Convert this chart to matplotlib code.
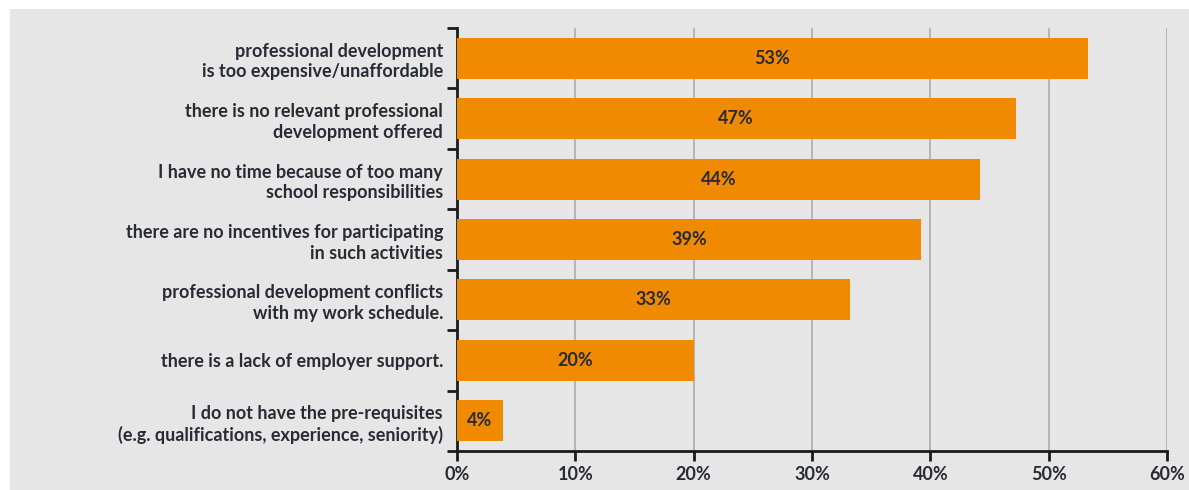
import numpy as np
import matplotlib.pyplot as plt
from matplotlib.patches import Rectangle

labels = [
    "professional development\nis too expensive/unaffordable",
    "there is no relevant professional\ndevelopment offered",
    "I have no time because of too many\nschool responsibilities",
    "there are no incentives for participating\nin such activities",
    "professional development conflicts\nwith my work schedule.",
    "there is a lack of employer support.",
    "I do not have the pre-requisites\n(e.g. qualifications, experience, seniority)",
]
values = [53.3, 47.2, 44.2, 39.2, 33.2, 20.0, 3.9]
value_labels = ["53%", "47%", "44%", "39%", "33%", "20%", "4%"]
xticks = [0, 10, 20, 30, 40, 50, 60]

plt.rcParams['font.family'] = ['Lato', 'DejaVu Sans']
txt = '#2a2a35'
orange = '#f08a00'
panel = '#e6e6e6'

fig = plt.figure(figsize=(11.89, 4.90), dpi=100)
fig.patch.set_facecolor('white')
fig.patches.append(Rectangle((10 / 1189, 0), 1, 1 - 9 / 490, transform=fig.transFigure,
                             facecolor=panel, edgecolor='none', zorder=-10))

ax = fig.add_axes([457 / 1189, 1 - 451 / 490, 710 / 1189, 423 / 490])
ax.set_facecolor(panel)

y = np.arange(len(labels))
ax.barh(y, values, height=0.68, color=orange, zorder=3)
for yi, v, lab in zip(y, values, value_labels):
    ax.text(v / 2, yi, lab, ha='center', va='center', fontsize=13,
            fontweight='bold', color=txt, zorder=4)

ax.set_ylim(len(labels) - 0.5, -0.5)
ax.set_xlim(0, 60)
ax.set_xticks(xticks)
ax.set_xticklabels([f"{t}%" for t in xticks], fontsize=13, fontweight='bold', color=txt)
ax.set_yticks(y)
ax.set_yticklabels(labels, fontsize=13, fontweight='bold', color=txt, linespacing=1.25)
ax.set_yticks(np.arange(-0.5, len(labels)), minor=True)
ax.tick_params(axis='y', which='major', length=0, pad=10)
ax.tick_params(axis='y', which='minor', length=7, width=2, color='#1a1a1a', direction='out')
ax.tick_params(axis='x', length=7, width=2, color='#1a1a1a', pad=4)

ax.grid(axis='x', color='#b0b0b0', linewidth=1.3, zorder=0)
for s in ['top', 'right']:
    ax.spines[s].set_visible(False)
for s in ['left', 'bottom']:
    ax.spines[s].set_linewidth(2)
    ax.spines[s].set_color('#1a1a1a')
ax.set_axisbelow(True)

fig.savefig('out.png', dpi=100, facecolor='white')
